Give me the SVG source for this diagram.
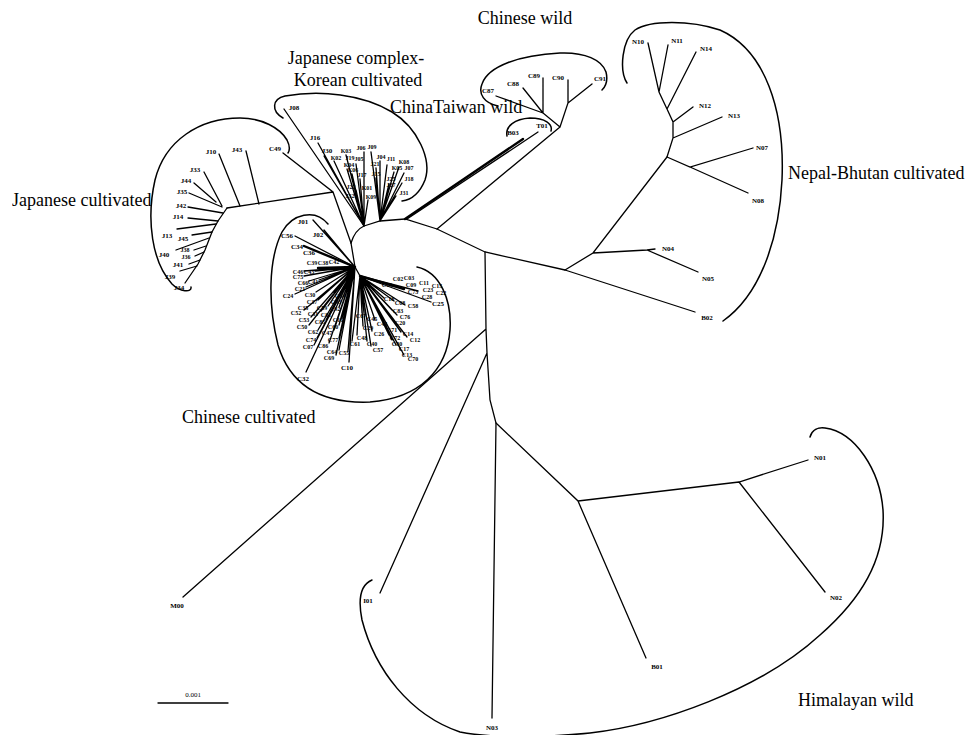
<svg xmlns="http://www.w3.org/2000/svg" width="970" height="735" viewBox="0 0 970 735">
<style>
.e{stroke:#000;stroke-width:1.3;fill:none;stroke-linecap:round}
.b{stroke:#000;stroke-width:2.4;fill:none;stroke-linecap:round}
.o{stroke:#000;stroke-width:1.5;fill:none;stroke-linecap:round}
.l{font-family:"Liberation Serif","Times New Roman",serif;font-size:7px;font-weight:bold;text-anchor:middle;fill:#000}
.s{font-size:6px}
.g{font-family:"Liberation Serif","Times New Roman",serif;font-size:18px;fill:#000}
.t{opacity:0.99}
</style>
<rect width="970" height="735" fill="#fff"/>
<g id="outlines">
<path class="o" d="M191,287 C192,293 180,292 172,284 C152,262 146,220 155,180 C165,140 200,118 240,118 C262,118 280,128 287,140 C290,146 290,150 288,153"/>
<path class="o" d="M283,118 C271,111 272,99 285,96 C320,90 362,94 392,112 C418,128 432,160 425,180 C419,195 410,200 402,201"/>
<path class="o" d="M417,267 C440,272 452,300 450,330 C447,370 420,398 370,402 C320,404 290,385 278,345 C268,305 268,260 282,232 C292,214 315,208 328,224"/>
<path class="o" d="M498,106 C484,103 478,94 482,84 C488,66 520,55 560,53 C585,52 602,60 606,72 C608,80 606,86 602,90"/>
<path class="o" d="M507,136 C505,126 515,119 530,118 C545,118 553,124 551,131"/>
<path class="o" d="M627,83 C619,70 622,40 635,30 C650,20 690,20 720,30 C765,50 785,110 782,180 C779,240 760,295 723,321"/>
<path class="o" d="M810,437 C812,430 818,427 825,428 C855,432 880,470 883,510 C886,560 860,600 820,635 C760,690 660,725 590,733 C540,738 490,738 460,732 C410,715 375,670 362,620 C358,600 360,585 372,580"/>
</g>
<g id="edges">
<path class="e" d="M227,208 L218,221 L212,232 L205,250 L198,264 L185,283"/>
<path class="e" d="M219,154 L240,206 M246,151 L259,204 M204,172 L222,206 M194,183 L216,202 M189,193 L222,207 M188,207 L223,213 M188,218 L218,221 M177,229 L216,224 M192,235 L212,232 M176,250 L209,238 M194,250 L206,246 M195,256 L204,252 M189,264 L200,260 M180,271 L197,266"/>
<path class="e" d="M227,208 L333,192 M283,153 L333,192 L351,243 M284,109 L364,226"/>
<path class="e" d="M318,143 L364,226 M324,156 L364,226 M334,161 L364,226 M346,155 L364,226 M348,163 L364,226 M356,164 L364,226 M347,169 L364,226 M352,174 L364,226 M360,179 L364,226 M356,190 L364,226 M358,199 L364,226 M364,191 L364,226 M368,200 L364,226 M364,152 L364,226"/>
<path class="e" d="M371,152 L380,221 M380,161 L380,221 M387,165 L380,221 M376,168 L380,221 M399,167 L380,221 M394,172 L380,221 M404,173 L380,221 M376,178 L380,221 M389,184 L380,221 M402,183 L380,221 M388,189 L380,221 M396,196 L380,221"/>
<path class="e" d="M351,243 Q355,230 364,226 L380,221 L405,219 L437,229 L485,252 L565,270"/>
<path class="e" d="M351,243 L355,267"/>
<path class="b" d="M405,219 L523,139"/>
<path class="e" d="M407,219 L538,132"/>
<path class="e" d="M437,229 L560,127 L543,113 L543,78 M543,113 L523,88 M543,113 L496,96 M560,127 L568,103 L568,80 M568,103 L592,84"/>
<path class="e" d="M565,270 L593,253 L667,157 M593,253 L647,250 L655,249 M647,250 L698,272 M565,270 L695,312"/>
<path class="e" d="M667,157 L673,138 L673,122 L667,109 L659,92 L648,43 M659,92 L668,45 M667,109 L696,52 M673,122 L693,107 M673,138 L722,117 M667,157 L690,167 L753,148 M690,167 L748,193"/>
<path class="e" d="M485,252 L486,329 L487,353 L490,400 L496,423 L492,718 M486,329 L183,597 M487,353 L380,593"/>
<path class="e" d="M496,423 L578,501 L646,658 M578,501 L739,482 L808,460 M739,482 L825,592"/>
<path class="e" d="M313,220 L355,267 M324,230 L355,267 M295,236 L355,267"/>
<path class="b" d="M304,246 L355,267 M318,268 L355,267"/>
<path class="e" d="M304,271 L355,267 M315,271 L355,267 M304,276 L355,267 M309,281 L355,267 M319,280 L355,267 M306,287 L355,267 M295,294 L355,267 M316,292 L355,267 M334,293 L355,267 M318,300 L355,267 M332,300 L355,267 M310,305 L355,267 M328,306 L355,267 M339,307 L355,267 M304,310 L355,267 M321,311 L355,267 M331,313 L355,267 M311,317 L355,267 M326,320 L355,267 M342,318 L355,267 M309,325 L355,267 M339,325 L355,267 M318,330 L355,267 M334,330 L355,267 M317,338 L355,267 M339,338 L355,267 M314,345 L355,267 M329,343 L355,267 M339,350 L355,267 M348,351 L355,267 M336,355 L355,267 M349,362 L355,267 M306,372 L355,267"/>
<path class="e" d="M355,267 L360,276"/>
<path class="b" d="M360,276 L394,286 M360,276 L404,289"/>
<path class="e" d="M360,276 L418,291 M360,276 L431,302 M360,276 L384,298 M360,276 L394,301 M360,276 L405,305 M360,276 L392,310 M360,276 L397,315 M360,276 L362,313 M360,276 L366,316 M360,276 L375,320 M360,276 L394,320 M360,276 L363,326 M360,276 L386,327 M360,276 L372,331 M360,276 L401,332 M360,276 L357,335 M360,276 L389,335 M360,276 L407,337 M360,276 L352,341 M360,276 L367,341 M360,276 L392,340 M360,276 L371,346 M360,276 L396,345 M360,276 L401,350 M360,276 L404,355"/>
<path class="e" d="M158,703 L228,703"/>
</g>
<g class="t">
<g id="labels-groups">
<text class="g" x="525" y="24" text-anchor="middle">Chinese wild</text>
<text class="g" x="356" y="64" text-anchor="middle">Japanese complex-</text>
<text class="g" x="358" y="86" text-anchor="middle">Korean cultivated</text>
<text class="g" x="390" y="113">ChinaTaiwan wild</text>
<text class="g" x="12" y="206">Japanese cultivated</text>
<text class="g" x="788" y="179">Nepal-Bhutan cultivated</text>
<text class="g" x="182" y="423">Chinese cultivated</text>
<text class="g" x="798" y="706">Himalayan wild</text>
<text class="l" x="193" y="697" style="font-weight:normal">0.001</text>
</g>
<g id="n-J10"><text class="l" x="211" y="153.5">J10</text></g>
<g id="n-J43"><text class="l" x="237" y="151.5">J43</text></g>
<g id="n-C49"><text class="l" x="275" y="150.5">C49</text></g>
<g id="n-J33"><text class="l" x="195" y="171.5">J33</text></g>
<g id="n-J44"><text class="l" x="186" y="182.5">J44</text></g>
<g id="n-J35"><text class="l" x="182" y="193.5">J35</text></g>
<g id="n-J42"><text class="l" x="181" y="207.5">J42</text></g>
<g id="n-J14"><text class="l" x="178" y="218.5">J14</text></g>
<g id="n-J13"><text class="l" x="167" y="237.5">J13</text></g>
<g id="n-J45"><text class="l" x="183" y="240.5">J45</text></g>
<g id="n-J40"><text class="l" x="164" y="256.5">J40</text></g>
<g id="n-J38"><text class="l s" x="185" y="252">J38</text></g>
<g id="n-J36"><text class="l s" x="186" y="259">J36</text></g>
<g id="n-J41"><text class="l" x="178" y="266.5">J41</text></g>
<g id="n-J39"><text class="l" x="170" y="278.5">J39</text></g>
<g id="n-J34"><text class="l" x="179" y="289.5">J34</text></g>
<g id="n-J08"><text class="l" x="294" y="109.5">J08</text></g>
<g id="n-J16"><text class="l" x="315" y="139.5">J16</text></g>
<g id="n-J30"><text class="l" x="327" y="152.5">J30</text></g>
<g id="n-K02"><text class="l s" x="336" y="159.5">K02</text></g>
<g id="n-K03"><text class="l s" x="346" y="152.5">K03</text></g>
<g id="n-J19"><text class="l s" x="350" y="160">J19</text></g>
<g id="n-J05"><text class="l s" x="359" y="161">J05</text></g>
<g id="n-K04"><text class="l s" x="349" y="166.5">K04</text></g>
<g id="n-K06"><text class="l s" x="353" y="172">K06</text></g>
<g id="n-J17"><text class="l s" x="362" y="177">J17</text></g>
<g id="n-J22"><text class="l s" x="351" y="188.5">J22</text></g>
<g id="n-K01"><text class="l s" x="367" y="189.5">K01</text></g>
<g id="n-J32"><text class="l s" x="350" y="197.5">J32</text></g>
<g id="n-K09"><text class="l s" x="371" y="198.5">K09</text></g>
<g id="n-J06"><text class="l s" x="361" y="149.5">J06</text></g>
<g id="n-J09"><text class="l s" x="372" y="148.5">J09</text></g>
<g id="n-J04"><text class="l s" x="381" y="158.5">J04</text></g>
<g id="n-J11"><text class="l s" x="391" y="161">J11</text></g>
<g id="n-J21"><text class="l s" x="375" y="165.5">J21</text></g>
<g id="n-K08"><text class="l s" x="404" y="164">K08</text></g>
<g id="n-K05"><text class="l s" x="397" y="170">K05</text></g>
<g id="n-J07"><text class="l s" x="409" y="170">J07</text></g>
<g id="n-J15"><text class="l s" x="376" y="175.5">J15</text></g>
<g id="n-J25"><text class="l s" x="391" y="180.5">J25</text></g>
<g id="n-J18"><text class="l s" x="409" y="180.5">J18</text></g>
<g id="n-J27"><text class="l s" x="391" y="187">J27</text></g>
<g id="n-J31"><text class="l s" x="404" y="194.5">J31</text></g>
<g id="n-T01"><text class="l" x="542" y="127.5">T01</text></g>
<g id="n-B03"><text class="l" x="513" y="134.5">B03</text></g>
<g id="n-C87"><text class="l" x="488" y="93">C87</text></g>
<g id="n-C88"><text class="l" x="513" y="85.5">C88</text></g>
<g id="n-C89"><text class="l" x="534" y="77.5">C89</text></g>
<g id="n-C90"><text class="l" x="558" y="79.5">C90</text></g>
<g id="n-C91"><text class="l" x="600" y="80.5">C91</text></g>
<g id="n-N10"><text class="l" x="638" y="43.5">N10</text></g>
<g id="n-N11"><text class="l" x="677" y="42.5">N11</text></g>
<g id="n-N14"><text class="l" x="706" y="50.5">N14</text></g>
<g id="n-N12"><text class="l" x="705" y="107.5">N12</text></g>
<g id="n-N13"><text class="l" x="734" y="117.5">N13</text></g>
<g id="n-N07"><text class="l" x="762" y="149.5">N07</text></g>
<g id="n-N08"><text class="l" x="758" y="202.5">N08</text></g>
<g id="n-N04"><text class="l" x="668" y="250.5">N04</text></g>
<g id="n-N05"><text class="l" x="708" y="280.5">N05</text></g>
<g id="n-B02"><text class="l" x="707" y="319.5">B02</text></g>
<g id="n-M00"><text class="l" x="177" y="607.5">M00</text></g>
<g id="n-I01"><text class="l" x="368" y="602.5">I01</text></g>
<g id="n-N03"><text class="l" x="492" y="729.5">N03</text></g>
<g id="n-B01"><text class="l" x="657" y="668.5">B01</text></g>
<g id="n-N01"><text class="l" x="820" y="459.5">N01</text></g>
<g id="n-N02"><text class="l" x="836" y="599.5">N02</text></g>
<g id="n-J01"><text class="l" x="303" y="223.5">J01</text></g>
<g id="n-J02"><text class="l" x="318" y="236.5">J02</text></g>
<g id="n-C56"><text class="l" x="287" y="237.5">C56</text></g>
<g id="n-C34"><text class="l" x="297" y="248.5">C34</text></g>
<g id="n-C36"><text class="l" x="309" y="254.5">C36</text></g>
<g id="n-C39"><text class="l s" x="312" y="265">C39</text></g>
<g id="n-C38"><text class="l s" x="323" y="265">C38</text></g>
<g id="n-C42"><text class="l s" x="334" y="264">C42</text></g>
<g id="n-C46"><text class="l s" x="298" y="273.5">C46</text></g>
<g id="n-C43"><text class="l s" x="309" y="273.5">C43</text></g>
<g id="n-C75"><text class="l s" x="298" y="279">C75</text></g>
<g id="n-C66"><text class="l s" x="303" y="285">C66</text></g>
<g id="n-C41"><text class="l s" x="313" y="284">C41</text></g>
<g id="n-C21"><text class="l s" x="300" y="291">C21</text></g>
<g id="n-C24"><text class="l s" x="288" y="297.5">C24</text></g>
<g id="n-C30"><text class="l s" x="310" y="297">C30</text></g>
<g id="n-C84"><text class="l s" x="340" y="297.5">C84</text></g>
<g id="n-C37"><text class="l s" x="312" y="304">C37</text></g>
<g id="n-C93"><text class="l s" x="336" y="304">C93</text></g>
<g id="n-C35"><text class="l s" x="303" y="309.5">C35</text></g>
<g id="n-C59"><text class="l s" x="322" y="310">C59</text></g>
<g id="n-C92"><text class="l s" x="335" y="311">C92</text></g>
<g id="n-C52"><text class="l s" x="296" y="315">C52</text></g>
<g id="n-C31"><text class="l s" x="313" y="316">C31</text></g>
<g id="n-C81"><text class="l s" x="326" y="317">C81</text></g>
<g id="n-C53"><text class="l s" x="304" y="321.5">C53</text></g>
<g id="n-C85"><text class="l s" x="320" y="324">C85</text></g>
<g id="n-C16"><text class="l s" x="338" y="322">C16</text></g>
<g id="n-C50"><text class="l s" x="302" y="329">C50</text></g>
<g id="n-C60"><text class="l s" x="333" y="329">C60</text></g>
<g id="n-C62"><text class="l s" x="313" y="334">C62</text></g>
<g id="n-C47"><text class="l s" x="327" y="335">C47</text></g>
<g id="n-C74"><text class="l s" x="311" y="342">C74</text></g>
<g id="n-C77"><text class="l s" x="333" y="342">C77</text></g>
<g id="n-C07"><text class="l s" x="308" y="349">C07</text></g>
<g id="n-C86"><text class="l s" x="323" y="347.5">C86</text></g>
<g id="n-C64"><text class="l s" x="332" y="354">C64</text></g>
<g id="n-C55"><text class="l s" x="344" y="355">C55</text></g>
<g id="n-C69"><text class="l s" x="329" y="360">C69</text></g>
<g id="n-C10"><text class="l" x="347" y="369.5">C10</text></g>
<g id="n-C32"><text class="l" x="303" y="380.5">C32</text></g>
<g id="n-C02"><text class="l s" x="398" y="281">C02</text></g>
<g id="n-C03"><text class="l s" x="409" y="280">C03</text></g>
<g id="n-C19"><text class="l s" x="387" y="287">C19</text></g>
<g id="n-C09"><text class="l s" x="411" y="287">C09</text></g>
<g id="n-C11"><text class="l s" x="424" y="285">C11</text></g>
<g id="n-C15"><text class="l s" x="437" y="288">C15</text></g>
<g id="n-C73"><text class="l s" x="413" y="294">C73</text></g>
<g id="n-C23"><text class="l s" x="428" y="292">C23</text></g>
<g id="n-C22"><text class="l s" x="441" y="295">C22</text></g>
<g id="n-C28"><text class="l s" x="427" y="298.5">C28</text></g>
<g id="n-C25"><text class="l" x="438" y="305.5">C25</text></g>
<g id="n-C18"><text class="l s" x="389" y="301">C18</text></g>
<g id="n-C08"><text class="l s" x="400" y="305">C08</text></g>
<g id="n-C58"><text class="l s" x="413" y="308">C58</text></g>
<g id="n-C83"><text class="l s" x="398" y="313">C83</text></g>
<g id="n-C76"><text class="l s" x="405" y="318.5">C76</text></g>
<g id="n-C67"><text class="l s" x="361" y="318">C67</text></g>
<g id="n-C45"><text class="l s" x="372" y="321">C45</text></g>
<g id="n-C44"><text class="l s" x="382" y="325.5">C44</text></g>
<g id="n-C20"><text class="l s" x="400" y="325">C20</text></g>
<g id="n-C29"><text class="l s" x="368" y="330">C29</text></g>
<g id="n-C71"><text class="l s" x="392" y="332">C71</text></g>
<g id="n-C26"><text class="l s" x="379" y="336">C26</text></g>
<g id="n-C14"><text class="l s" x="408" y="336">C14</text></g>
<g id="n-C48"><text class="l s" x="362" y="339.5">C48</text></g>
<g id="n-C72"><text class="l s" x="395" y="340">C72</text></g>
<g id="n-C12"><text class="l s" x="415" y="342">C12</text></g>
<g id="n-C61"><text class="l s" x="355" y="345.5">C61</text></g>
<g id="n-C40"><text class="l s" x="372" y="345.5">C40</text></g>
<g id="n-C80"><text class="l s" x="397" y="346">C80</text></g>
<g id="n-C57"><text class="l s" x="378" y="351.5">C57</text></g>
<g id="n-C17"><text class="l s" x="404" y="351">C17</text></g>
<g id="n-C13"><text class="l s" x="407" y="356.5">C13</text></g>
<g id="n-C70"><text class="l s" x="413" y="361">C70</text></g>
</g>
</svg>
